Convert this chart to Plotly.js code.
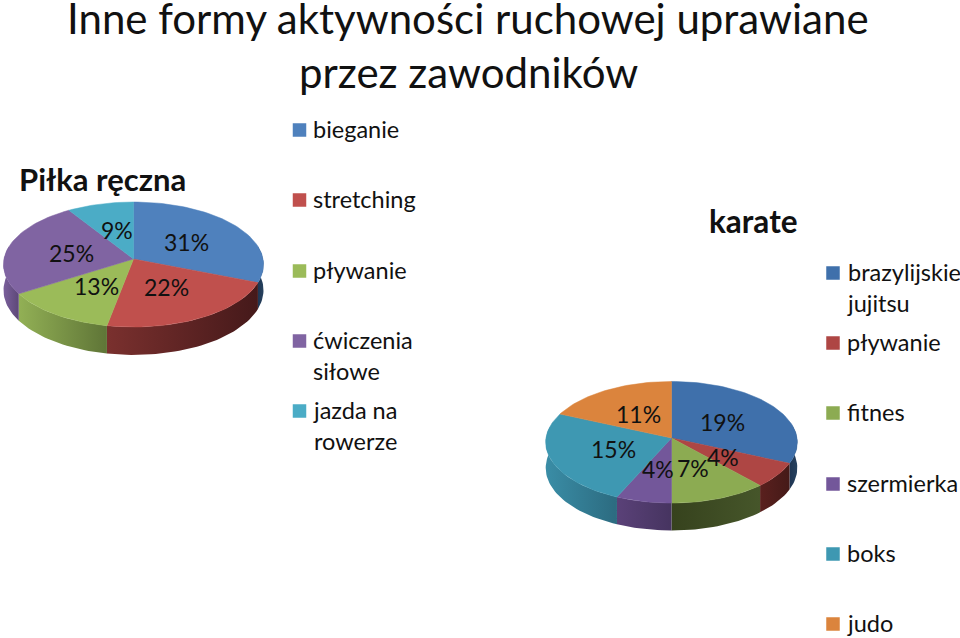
<!DOCTYPE html>
<html><head><meta charset="utf-8">
<script src="https://cdn.plot.ly/plotly-3.0.1.min.js"></script>
<style>html,body{margin:0;padding:0;background:#fff}#c{width:960px;height:638px}</style>
</head><body><div id="c"></div>
<script>
// ---- data ----
const pilkaCategories = ["bieganie","stretching","pływanie","ćwiczenia<br>siłowe","jazda na<br>rowerze"];
const pilkaValues = [31,22,13,25,9];
const karateCategories = ["brazylijskie<br>jujitsu","pływanie","fitnes","szermierka","boks","judo"];
const karateValues = [19,4,7,4,15,11];
const pilkaTitle = "Piłka ręczna";
const karateTitle = "karate";
const titleLines = ["Inne formy aktywności ruchowej uprawiane","przez zawodników"];

// ---- styles and placement ----
const pilkaTop = ["#4F81BD","#C0504D","#9BBB59","#8064A2","#4BACC6"];
const pilkaWall = [["#1f3552","#27425f"],["#7a302e","#45191a"],["#92b055","#5f7537"],["#7a5f9b","#5d4878"],["#4BACC6","#4BACC6"]];
const karateTop = ["#3F70AB","#AE4644","#8CAB52","#73579A","#3E98B2","#DB843D"];
const karateWall = [["#1f3552","#27425f"],["#5a201e","#451a18"],["#36421d","#46562a"],["#5a4178","#463460"],["#3a8da6","#2c6b80"],["#db843d","#db843d"]];
const pilkaGeom = {cx:133.5,cy:259,A:129.5,h:62,k:0.088,d:25.5};
const karateGeom = {cx:671.5,cy:438,A:125.5,h:60.5,k:0.07,d:25.5};
const pilkaLabelXY = [[186,242],[166,287],[96,286],[71,253],[117,230]];
const karateLabelXY = [[722,422],[723,457],[693,468],[658,469],[613,449],[638,414]];
const pilkaLegendY = [130,200,271,341,411];
const karateLegendY = [273,343,413,484,554,624];
const FONT = "Lato, Carlito, Calibri, sans-serif";
const INK = "#111111";

function proj(g,deg,drop){
  const a = deg*Math.PI/180, X=Math.sin(a), Y=Math.cos(a), w=1+g.k*Y;
  return [g.cx+g.A*X/w, g.cy-g.h*Y/w+(drop?g.d/w:0)];
}
function arc(g,a0,a1,drop){
  const pts=[], n=Math.max(2,Math.ceil(Math.abs(a1-a0)/2));
  for(let i=0;i<=n;i++) pts.push(proj(g,a0+(a1-a0)*i/n,drop));
  return pts;
}
function poly(pts,color,grad){
  const t={type:"scatter",mode:"lines",x:pts.map(p=>p[0]),y:pts.map(p=>p[1]),
    line:{width:0.5,color:color},fill:"toself",hoverinfo:"skip",showlegend:false};
  if(grad){t.fillgradient={type:"horizontal",colorscale:[[0,grad[0]],[1,grad[1]]]};t.line.color=grad[1];t.line.width=0;}
  else t.fillcolor=color;
  return t;
}
function pieTraces(values,g,top,wall){
  const sum=values.reduce((a,b)=>a+b,0), walls=[], tops=[];
  let acc=0;
  values.forEach((v,i)=>{
    const a0=acc/sum*360, a1=(acc+v)/sum*360; acc+=v;
    const w0=Math.max(a0,78), w1=Math.min(a1,282);
    if(w1>w0){
      walls.push(poly(arc(g,w0,w1,false).concat(arc(g,w1,w0,true)),wall[i][1],wall[i]));
    }
    tops.push(poly([[g.cx,g.cy]].concat(arc(g,a0,a1,false)).concat([[g.cx,g.cy]]),top[i]));
  });
  return walls.concat(tops);
}
function legendTrace(ys,x,colors){
  return {type:"scatter",mode:"markers",x:ys.map(()=>x),y:ys,hoverinfo:"skip",showlegend:false,
    marker:{symbol:"square",size:13.5,color:colors,line:{width:0}}};
}
function txt(x,y,s,size,opts){
  return Object.assign({xref:"x",yref:"y",x:x,y:y,text:s,showarrow:false,xanchor:"center",yanchor:"middle",
    font:{family:FONT,size:size,color:INK}},opts||{});
}
const traces=[].concat(
  pieTraces(pilkaValues,pilkaGeom,pilkaTop,pilkaWall),
  pieTraces(karateValues,karateGeom,karateTop,karateWall),
  [legendTrace(pilkaLegendY,299.5,pilkaTop),legendTrace(karateLegendY,833,karateTop)]
);
const ann=[
  txt(468,17.5,titleLines[0],42),
  txt(468,71.5,titleLines[1],42),
  txt(102,179,"<b>"+pilkaTitle+"</b>",31),
  txt(753,220.5,"<b>"+karateTitle+"</b>",31.5)
];
pilkaValues.forEach((v,i)=>ann.push(txt(pilkaLabelXY[i][0],pilkaLabelXY[i][1],v+"%",23)));
karateValues.forEach((v,i)=>ann.push(txt(karateLabelXY[i][0],karateLabelXY[i][1],v+"%",23)));
pilkaCategories.forEach((c,i)=>ann.push(txt(310.5,pilkaLegendY[i]-17,c,23.5,{xanchor:"left",yanchor:"top",align:"left"})));
karateCategories.forEach((c,i)=>ann.push(txt(844.5,karateLegendY[i]-17,c,23.5,{xanchor:"left",yanchor:"top",align:"left"})));
const hidden={visible:false,fixedrange:true};
Plotly.newPlot("c",traces,{
  width:960,height:638,margin:{l:0,r:0,t:0,b:0},paper_bgcolor:"#fff",plot_bgcolor:"#fff",showlegend:false,
  xaxis:Object.assign({range:[0,960]},hidden),
  yaxis:Object.assign({range:[638,0]},hidden),
  annotations:ann
},{staticPlot:true,displayModeBar:false});
</script></body></html>
